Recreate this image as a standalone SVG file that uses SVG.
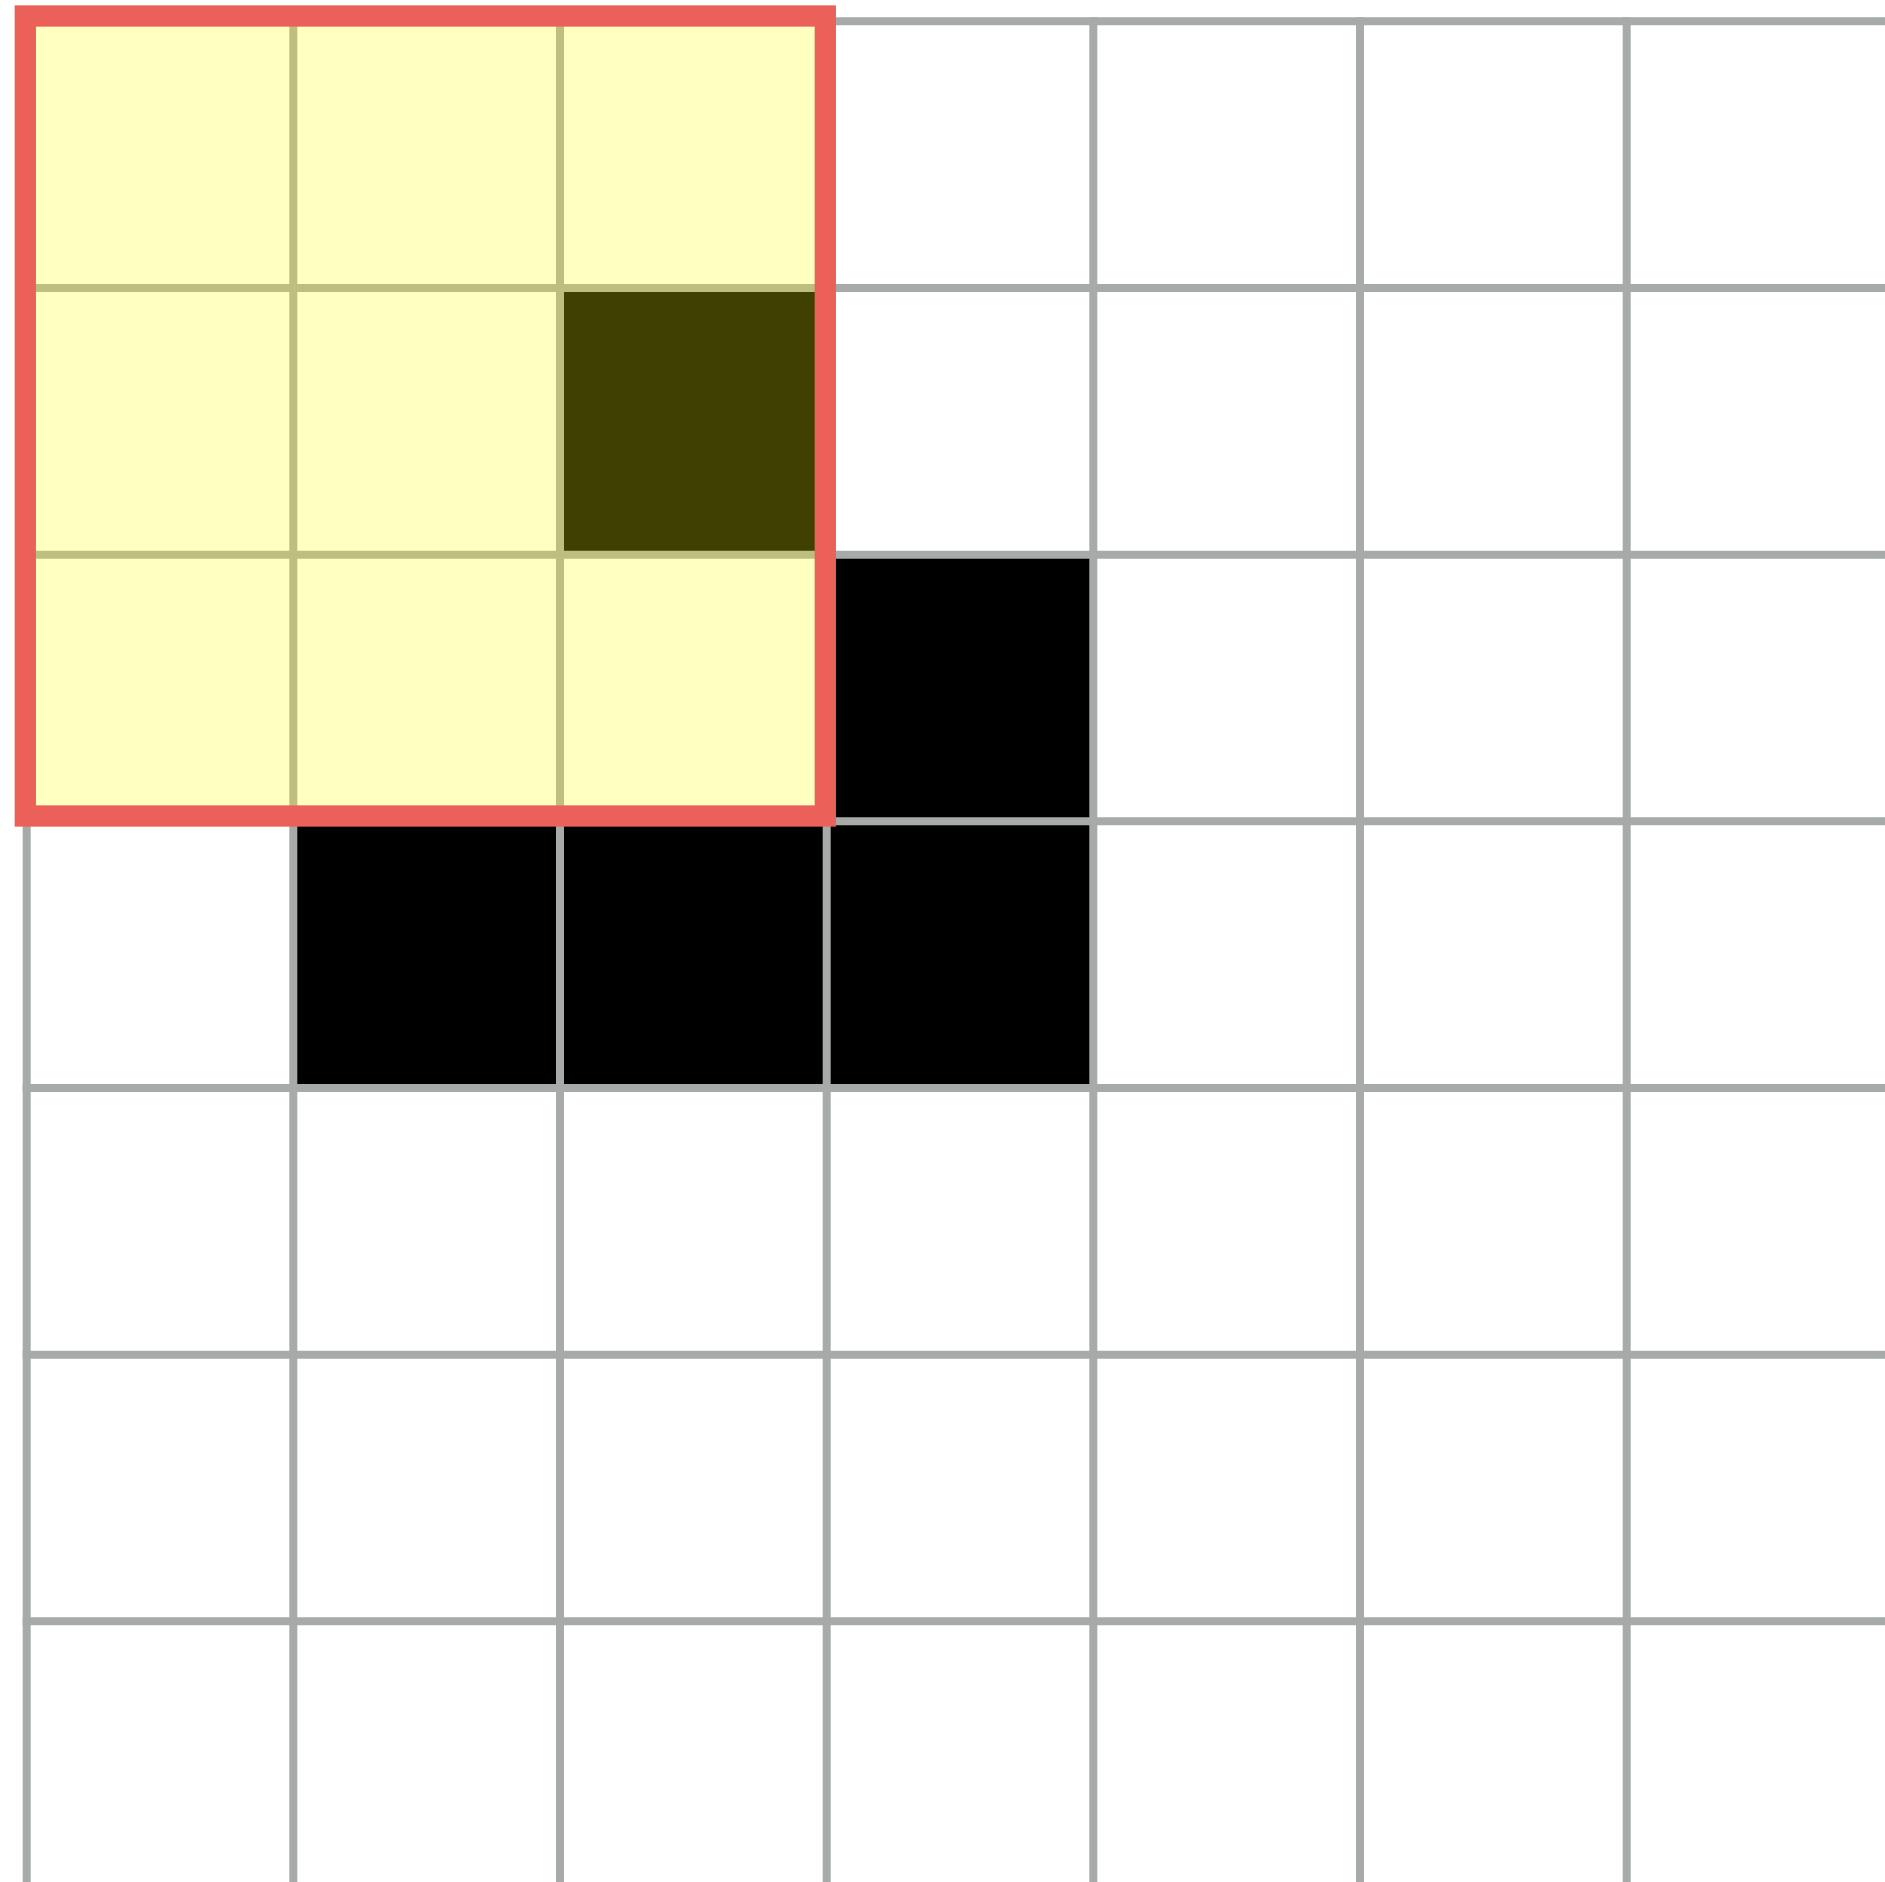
<svg xmlns="http://www.w3.org/2000/svg" width="1885" height="1882" viewBox="0 0 1885 1882">
<style>
.grid line{stroke:#a6aaa9;stroke-width:8}
.alive{fill:#000000}
</style>
<rect x="0" y="0" width="1885" height="1882" fill="#ffffff"/>
<g id="cells">
<rect class="alive" x="560" y="288" width="266.7" height="266.7"/>
<rect class="alive" x="826.7" y="554.7" width="266.6" height="266.6"/>
<rect class="alive" x="293.3" y="821.3" width="266.7" height="266.7"/>
<rect class="alive" x="560" y="821.3" width="266.7" height="266.7"/>
<rect class="alive" x="826.7" y="821.3" width="266.6" height="266.7"/>
</g>
<g id="grid" class="grid">
<line x1="26.7" y1="17.3" x2="26.7" y2="1882"/>
<line x1="293.3" y1="17.3" x2="293.3" y2="1882"/>
<line x1="560" y1="17.3" x2="560" y2="1882"/>
<line x1="826.7" y1="17.3" x2="826.7" y2="1882"/>
<line x1="1093.3" y1="17.3" x2="1093.3" y2="1882"/>
<line x1="1360" y1="17.3" x2="1360" y2="1882"/>
<line x1="1626.7" y1="17.3" x2="1626.7" y2="1882"/>
<line x1="22.7" y1="21.3" x2="1885" y2="21.3"/>
<line x1="22.7" y1="288" x2="1885" y2="288"/>
<line x1="22.7" y1="554.7" x2="1885" y2="554.7"/>
<line x1="22.7" y1="821.3" x2="1885" y2="821.3"/>
<line x1="22.7" y1="1088" x2="1885" y2="1088"/>
<line x1="22.7" y1="1354.7" x2="1885" y2="1354.7"/>
<line x1="22.7" y1="1621.3" x2="1885" y2="1621.3"/>
</g>
<g id="neighborhood">
<rect x="25.3" y="16" width="800" height="800" fill="#ffff00" fill-opacity="0.25"/>
<rect x="25.3" y="16" width="800" height="800" fill="none" stroke="#ec605a" stroke-width="21.3"/>
</g>
</svg>
